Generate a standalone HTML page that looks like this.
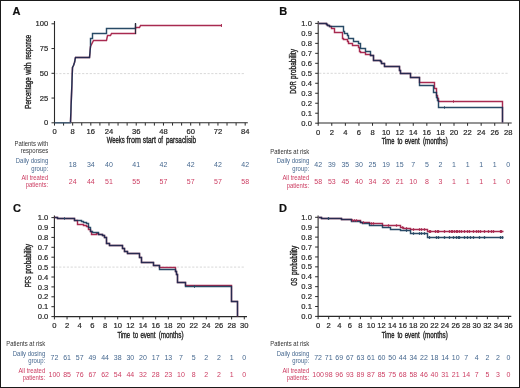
<!DOCTYPE html>
<html><head><meta charset="utf-8"><title>Figure</title>
<style>
html,body{margin:0;padding:0;background:#fff;}
body{width:520px;height:388px;overflow:hidden;}
#fig{position:absolute;left:0;top:0;width:520px;height:388px;box-sizing:border-box;border:1px solid #1a1a1a;background:#fff;}
svg{position:absolute;left:0;top:0;}
svg text{font-family:"Liberation Sans", sans-serif;stroke:currentColor;stroke-width:0.2px;}
svg text.lt{stroke-width:0px;stroke:none;}
svg text.ti{stroke-width:0.38px;}
</style></head>
<body><div id="fig"></div>
<svg width="520" height="388" viewBox="0 0 520 388">
<text x="12.40" y="14.60" font-size="11.0" font-weight="bold" fill="#111" color="#111">A</text>
<line x1="54.50" y1="21.00" x2="54.50" y2="123.30" stroke="#2a2a2a" stroke-width="1.1"/>
<line x1="51.50" y1="23.80" x2="54.50" y2="23.80" stroke="#2a2a2a" stroke-width="1.0"/>
<text x="48.30" y="26.00" font-size="8.0" text-anchor="end" fill="#262626" color="#262626" textLength="12.68" lengthAdjust="spacingAndGlyphs">100</text>
<line x1="51.50" y1="48.55" x2="54.50" y2="48.55" stroke="#2a2a2a" stroke-width="1.0"/>
<text x="48.30" y="51.00" font-size="8.0" text-anchor="end" fill="#262626" color="#262626" textLength="8.45" lengthAdjust="spacingAndGlyphs">75</text>
<line x1="51.50" y1="73.30" x2="54.50" y2="73.30" stroke="#2a2a2a" stroke-width="1.0"/>
<text x="48.30" y="76.00" font-size="8.0" text-anchor="end" fill="#262626" color="#262626" textLength="8.45" lengthAdjust="spacingAndGlyphs">50</text>
<line x1="51.50" y1="98.05" x2="54.50" y2="98.05" stroke="#2a2a2a" stroke-width="1.0"/>
<text x="48.30" y="101.00" font-size="8.0" text-anchor="end" fill="#262626" color="#262626" textLength="8.45" lengthAdjust="spacingAndGlyphs">25</text>
<line x1="51.50" y1="122.80" x2="54.50" y2="122.80" stroke="#2a2a2a" stroke-width="1.0"/>
<text x="48.30" y="125.00" font-size="8.0" text-anchor="end" fill="#262626" color="#262626" textLength="4.23" lengthAdjust="spacingAndGlyphs">0</text>
<text transform="translate(30.70,108.70) rotate(-90)" x="-0.00" y="0" font-size="8.6" fill="#262626" color="#262626" textLength="31.40" lengthAdjust="spacingAndGlyphs" class="ti">Percentage</text>
<text transform="translate(30.70,74.80) rotate(-90)" x="0.01" y="0" font-size="8.6" fill="#262626" color="#262626" textLength="12.39" lengthAdjust="spacingAndGlyphs" class="ti">with</text>
<text transform="translate(30.70,59.50) rotate(-90)" x="-0.00" y="0" font-size="8.6" fill="#262626" color="#262626" textLength="24.70" lengthAdjust="spacingAndGlyphs" class="ti">response</text>
<line x1="55.50" y1="73.60" x2="245.00" y2="73.60" stroke="#d4d4d4" stroke-width="0.9" stroke-dasharray="2.2 1.6"/>
<line x1="54.50" y1="122.80" x2="247.80" y2="122.80" stroke="#2a2a2a" stroke-width="1.1"/>
<line x1="54.50" y1="122.80" x2="54.50" y2="125.60" stroke="#2a2a2a" stroke-width="1.0"/>
<line x1="63.58" y1="122.80" x2="63.58" y2="125.60" stroke="#2a2a2a" stroke-width="1.0"/>
<line x1="72.66" y1="122.80" x2="72.66" y2="125.60" stroke="#2a2a2a" stroke-width="1.0"/>
<line x1="81.74" y1="122.80" x2="81.74" y2="125.60" stroke="#2a2a2a" stroke-width="1.0"/>
<line x1="90.82" y1="122.80" x2="90.82" y2="125.60" stroke="#2a2a2a" stroke-width="1.0"/>
<line x1="99.90" y1="122.80" x2="99.90" y2="125.60" stroke="#2a2a2a" stroke-width="1.0"/>
<line x1="108.98" y1="122.80" x2="108.98" y2="125.60" stroke="#2a2a2a" stroke-width="1.0"/>
<line x1="118.06" y1="122.80" x2="118.06" y2="125.60" stroke="#2a2a2a" stroke-width="1.0"/>
<line x1="127.14" y1="122.80" x2="127.14" y2="125.60" stroke="#2a2a2a" stroke-width="1.0"/>
<line x1="136.22" y1="122.80" x2="136.22" y2="125.60" stroke="#2a2a2a" stroke-width="1.0"/>
<line x1="145.30" y1="122.80" x2="145.30" y2="125.60" stroke="#2a2a2a" stroke-width="1.0"/>
<line x1="154.38" y1="122.80" x2="154.38" y2="125.60" stroke="#2a2a2a" stroke-width="1.0"/>
<line x1="163.46" y1="122.80" x2="163.46" y2="125.60" stroke="#2a2a2a" stroke-width="1.0"/>
<line x1="172.54" y1="122.80" x2="172.54" y2="125.60" stroke="#2a2a2a" stroke-width="1.0"/>
<line x1="181.62" y1="122.80" x2="181.62" y2="125.60" stroke="#2a2a2a" stroke-width="1.0"/>
<line x1="190.70" y1="122.80" x2="190.70" y2="125.60" stroke="#2a2a2a" stroke-width="1.0"/>
<line x1="199.78" y1="122.80" x2="199.78" y2="125.60" stroke="#2a2a2a" stroke-width="1.0"/>
<line x1="208.86" y1="122.80" x2="208.86" y2="125.60" stroke="#2a2a2a" stroke-width="1.0"/>
<line x1="217.94" y1="122.80" x2="217.94" y2="125.60" stroke="#2a2a2a" stroke-width="1.0"/>
<line x1="227.02" y1="122.80" x2="227.02" y2="125.60" stroke="#2a2a2a" stroke-width="1.0"/>
<line x1="236.10" y1="122.80" x2="236.10" y2="125.60" stroke="#2a2a2a" stroke-width="1.0"/>
<line x1="245.18" y1="122.80" x2="245.18" y2="125.60" stroke="#2a2a2a" stroke-width="1.0"/>
<text x="54.50" y="134.00" font-size="8.0" text-anchor="middle" fill="#262626" color="#262626" textLength="4.23" lengthAdjust="spacingAndGlyphs">0</text>
<text x="72.66" y="134.00" font-size="8.0" text-anchor="middle" fill="#262626" color="#262626" textLength="4.23" lengthAdjust="spacingAndGlyphs">8</text>
<text x="90.82" y="134.00" font-size="8.0" text-anchor="middle" fill="#262626" color="#262626" textLength="8.45" lengthAdjust="spacingAndGlyphs">16</text>
<text x="108.98" y="134.00" font-size="8.0" text-anchor="middle" fill="#262626" color="#262626" textLength="8.45" lengthAdjust="spacingAndGlyphs">24</text>
<text x="136.22" y="134.00" font-size="8.0" text-anchor="middle" fill="#262626" color="#262626" textLength="8.45" lengthAdjust="spacingAndGlyphs">36</text>
<text x="163.46" y="134.00" font-size="8.0" text-anchor="middle" fill="#262626" color="#262626" textLength="8.45" lengthAdjust="spacingAndGlyphs">48</text>
<text x="190.70" y="134.00" font-size="8.0" text-anchor="middle" fill="#262626" color="#262626" textLength="8.45" lengthAdjust="spacingAndGlyphs">60</text>
<text x="217.94" y="134.00" font-size="8.0" text-anchor="middle" fill="#262626" color="#262626" textLength="8.45" lengthAdjust="spacingAndGlyphs">72</text>
<text x="245.18" y="134.00" font-size="8.0" text-anchor="middle" fill="#262626" color="#262626" textLength="8.45" lengthAdjust="spacingAndGlyphs">84</text>
<text x="106.80" y="143.40" font-size="8.6" fill="#262626" color="#262626" textLength="18.00" lengthAdjust="spacingAndGlyphs" class="ti">Weeks</text>
<text x="126.60" y="143.40" font-size="8.6" fill="#262626" color="#262626" textLength="14.30" lengthAdjust="spacingAndGlyphs" class="ti">from</text>
<text x="142.80" y="143.40" font-size="8.6" fill="#262626" color="#262626" textLength="13.20" lengthAdjust="spacingAndGlyphs" class="ti">start</text>
<text x="158.00" y="143.40" font-size="8.6" fill="#262626" color="#262626" textLength="4.99" lengthAdjust="spacingAndGlyphs" class="ti">of</text>
<text x="166.00" y="143.40" font-size="8.6" fill="#262626" color="#262626" textLength="30.00" lengthAdjust="spacingAndGlyphs" class="ti">parsaclisib</text>
<polyline points="70.50,122.50 72.50,67.50 73.50,65.50 74.50,62.50 75.50,57.50 89.50,57.50 90.50,46.50 91.50,44.50 93.50,40.50 106.50,40.50 107.50,35.50 110.50,35.50 111.50,33.50 135.50,33.50 135.50,27.50 139.50,27.50 140.50,25.50 221.50,25.50" fill="none" stroke="#a82a50" stroke-width="1.45" stroke-linejoin="miter"/>
<polyline points="70.50,122.50 72.50,67.50 73.50,65.50 74.50,62.50 75.50,57.50 89.50,57.50 90.50,46.50 90.50,38.50 92.50,38.50 92.50,33.50 106.50,33.50 106.50,28.50 135.50,28.50 135.50,23.50" fill="none" stroke="#284a66" stroke-width="1.45" stroke-linejoin="miter" style="mix-blend-mode:darken"/>
<line x1="54.50" y1="122.85" x2="70.80" y2="122.85" stroke="#3d5b78" stroke-width="1.2"/>
<line x1="135.50" y1="23.00" x2="135.50" y2="34.00" stroke="#2b2b3b" stroke-width="1.1"/>
<line x1="221.50" y1="24.10" x2="221.50" y2="26.90" stroke="#a82a50" stroke-width="1.0"/>
<text x="48.20" y="145.60" font-size="6.8" text-anchor="end" fill="#333333" color="#333333" textLength="33.73" lengthAdjust="spacingAndGlyphs" class="lt">Patients with</text>
<text x="48.20" y="152.90" font-size="6.8" text-anchor="end" fill="#333333" color="#333333" textLength="27.45" lengthAdjust="spacingAndGlyphs" class="lt">responses</text>
<text x="48.20" y="162.90" font-size="6.8" text-anchor="end" fill="#46688f" color="#46688f" textLength="32.41" lengthAdjust="spacingAndGlyphs" class="lt">Daily dosing</text>
<text x="48.20" y="170.60" font-size="6.8" text-anchor="end" fill="#46688f" color="#46688f" textLength="16.87" lengthAdjust="spacingAndGlyphs" class="lt">group:</text>
<text x="48.20" y="179.80" font-size="6.8" text-anchor="end" fill="#cc3d62" color="#cc3d62" textLength="26.79" lengthAdjust="spacingAndGlyphs" class="lt">All treated</text>
<text x="48.20" y="187.40" font-size="6.8" text-anchor="end" fill="#cc3d62" color="#cc3d62" textLength="22.49" lengthAdjust="spacingAndGlyphs" class="lt">patients:</text>
<text x="72.66" y="167.10" font-size="7.0" text-anchor="middle" fill="#46688f" color="#46688f" class="lt">18</text>
<text x="90.82" y="167.10" font-size="7.0" text-anchor="middle" fill="#46688f" color="#46688f" class="lt">34</text>
<text x="108.98" y="167.10" font-size="7.0" text-anchor="middle" fill="#46688f" color="#46688f" class="lt">40</text>
<text x="136.22" y="167.10" font-size="7.0" text-anchor="middle" fill="#46688f" color="#46688f" class="lt">41</text>
<text x="163.46" y="167.10" font-size="7.0" text-anchor="middle" fill="#46688f" color="#46688f" class="lt">42</text>
<text x="190.70" y="167.10" font-size="7.0" text-anchor="middle" fill="#46688f" color="#46688f" class="lt">42</text>
<text x="217.94" y="167.10" font-size="7.0" text-anchor="middle" fill="#46688f" color="#46688f" class="lt">42</text>
<text x="245.18" y="167.10" font-size="7.0" text-anchor="middle" fill="#46688f" color="#46688f" class="lt">42</text>
<text x="72.66" y="184.00" font-size="7.0" text-anchor="middle" fill="#cc3d62" color="#cc3d62" class="lt">24</text>
<text x="90.82" y="184.00" font-size="7.0" text-anchor="middle" fill="#cc3d62" color="#cc3d62" class="lt">44</text>
<text x="108.98" y="184.00" font-size="7.0" text-anchor="middle" fill="#cc3d62" color="#cc3d62" class="lt">51</text>
<text x="136.22" y="184.00" font-size="7.0" text-anchor="middle" fill="#cc3d62" color="#cc3d62" class="lt">55</text>
<text x="163.46" y="184.00" font-size="7.0" text-anchor="middle" fill="#cc3d62" color="#cc3d62" class="lt">57</text>
<text x="190.70" y="184.00" font-size="7.0" text-anchor="middle" fill="#cc3d62" color="#cc3d62" class="lt">57</text>
<text x="217.94" y="184.00" font-size="7.0" text-anchor="middle" fill="#cc3d62" color="#cc3d62" class="lt">57</text>
<text x="245.18" y="184.00" font-size="7.0" text-anchor="middle" fill="#cc3d62" color="#cc3d62" class="lt">58</text>
<text x="279.30" y="14.60" font-size="11.0" font-weight="bold" fill="#111" color="#111">B</text>
<line x1="318.20" y1="21.00" x2="318.20" y2="123.50" stroke="#2a2a2a" stroke-width="1.1"/>
<line x1="315.20" y1="23.40" x2="318.20" y2="23.40" stroke="#2a2a2a" stroke-width="1.0"/>
<text x="311.90" y="26.00" font-size="8.0" text-anchor="end" fill="#262626" color="#262626" textLength="10.57" lengthAdjust="spacingAndGlyphs">1.0</text>
<line x1="315.20" y1="33.38" x2="318.20" y2="33.38" stroke="#2a2a2a" stroke-width="1.0"/>
<text x="311.90" y="36.00" font-size="8.0" text-anchor="end" fill="#262626" color="#262626" textLength="10.57" lengthAdjust="spacingAndGlyphs">0.9</text>
<line x1="315.20" y1="43.36" x2="318.20" y2="43.36" stroke="#2a2a2a" stroke-width="1.0"/>
<text x="311.90" y="46.00" font-size="8.0" text-anchor="end" fill="#262626" color="#262626" textLength="10.57" lengthAdjust="spacingAndGlyphs">0.8</text>
<line x1="315.20" y1="53.34" x2="318.20" y2="53.34" stroke="#2a2a2a" stroke-width="1.0"/>
<text x="311.90" y="56.00" font-size="8.0" text-anchor="end" fill="#262626" color="#262626" textLength="10.57" lengthAdjust="spacingAndGlyphs">0.7</text>
<line x1="315.20" y1="63.32" x2="318.20" y2="63.32" stroke="#2a2a2a" stroke-width="1.0"/>
<text x="311.90" y="66.00" font-size="8.0" text-anchor="end" fill="#262626" color="#262626" textLength="10.57" lengthAdjust="spacingAndGlyphs">0.6</text>
<line x1="315.20" y1="73.30" x2="318.20" y2="73.30" stroke="#2a2a2a" stroke-width="1.0"/>
<text x="311.90" y="76.00" font-size="8.0" text-anchor="end" fill="#262626" color="#262626" textLength="10.57" lengthAdjust="spacingAndGlyphs">0.5</text>
<line x1="315.20" y1="83.28" x2="318.20" y2="83.28" stroke="#2a2a2a" stroke-width="1.0"/>
<text x="311.90" y="86.00" font-size="8.0" text-anchor="end" fill="#262626" color="#262626" textLength="10.57" lengthAdjust="spacingAndGlyphs">0.4</text>
<line x1="315.20" y1="93.26" x2="318.20" y2="93.26" stroke="#2a2a2a" stroke-width="1.0"/>
<text x="311.90" y="96.00" font-size="8.0" text-anchor="end" fill="#262626" color="#262626" textLength="10.57" lengthAdjust="spacingAndGlyphs">0.3</text>
<line x1="315.20" y1="103.24" x2="318.20" y2="103.24" stroke="#2a2a2a" stroke-width="1.0"/>
<text x="311.90" y="106.00" font-size="8.0" text-anchor="end" fill="#262626" color="#262626" textLength="10.57" lengthAdjust="spacingAndGlyphs">0.2</text>
<line x1="315.20" y1="113.22" x2="318.20" y2="113.22" stroke="#2a2a2a" stroke-width="1.0"/>
<text x="311.90" y="116.00" font-size="8.0" text-anchor="end" fill="#262626" color="#262626" textLength="10.57" lengthAdjust="spacingAndGlyphs">0.1</text>
<line x1="315.20" y1="123.20" x2="318.20" y2="123.20" stroke="#2a2a2a" stroke-width="1.0"/>
<text x="311.90" y="126.00" font-size="8.0" text-anchor="end" fill="#262626" color="#262626" textLength="10.57" lengthAdjust="spacingAndGlyphs">0.0</text>
<text transform="translate(296.40,93.70) rotate(-90)" x="-0.00" y="0" font-size="8.6" fill="#262626" color="#262626" textLength="12.40" lengthAdjust="spacingAndGlyphs" class="ti">DOR</text>
<text transform="translate(296.40,78.90) rotate(-90)" x="-0.00" y="0" font-size="8.6" fill="#262626" color="#262626" textLength="29.80" lengthAdjust="spacingAndGlyphs" class="ti">probability</text>
<line x1="319.20" y1="73.30" x2="509.00" y2="73.30" stroke="#d4d4d4" stroke-width="0.9" stroke-dasharray="2.2 1.6"/>
<line x1="318.20" y1="123.00" x2="511.70" y2="123.00" stroke="#2a2a2a" stroke-width="1.1"/>
<line x1="318.20" y1="123.00" x2="318.20" y2="125.80" stroke="#2a2a2a" stroke-width="1.0"/>
<line x1="331.78" y1="123.00" x2="331.78" y2="125.80" stroke="#2a2a2a" stroke-width="1.0"/>
<line x1="345.36" y1="123.00" x2="345.36" y2="125.80" stroke="#2a2a2a" stroke-width="1.0"/>
<line x1="358.94" y1="123.00" x2="358.94" y2="125.80" stroke="#2a2a2a" stroke-width="1.0"/>
<line x1="372.52" y1="123.00" x2="372.52" y2="125.80" stroke="#2a2a2a" stroke-width="1.0"/>
<line x1="386.10" y1="123.00" x2="386.10" y2="125.80" stroke="#2a2a2a" stroke-width="1.0"/>
<line x1="399.68" y1="123.00" x2="399.68" y2="125.80" stroke="#2a2a2a" stroke-width="1.0"/>
<line x1="413.26" y1="123.00" x2="413.26" y2="125.80" stroke="#2a2a2a" stroke-width="1.0"/>
<line x1="426.84" y1="123.00" x2="426.84" y2="125.80" stroke="#2a2a2a" stroke-width="1.0"/>
<line x1="440.42" y1="123.00" x2="440.42" y2="125.80" stroke="#2a2a2a" stroke-width="1.0"/>
<line x1="454.00" y1="123.00" x2="454.00" y2="125.80" stroke="#2a2a2a" stroke-width="1.0"/>
<line x1="467.58" y1="123.00" x2="467.58" y2="125.80" stroke="#2a2a2a" stroke-width="1.0"/>
<line x1="481.16" y1="123.00" x2="481.16" y2="125.80" stroke="#2a2a2a" stroke-width="1.0"/>
<line x1="494.74" y1="123.00" x2="494.74" y2="125.80" stroke="#2a2a2a" stroke-width="1.0"/>
<line x1="508.32" y1="123.00" x2="508.32" y2="125.80" stroke="#2a2a2a" stroke-width="1.0"/>
<text x="318.20" y="135.00" font-size="8.0" text-anchor="middle" fill="#262626" color="#262626" textLength="4.23" lengthAdjust="spacingAndGlyphs">0</text>
<text x="331.78" y="135.00" font-size="8.0" text-anchor="middle" fill="#262626" color="#262626" textLength="4.23" lengthAdjust="spacingAndGlyphs">2</text>
<text x="345.36" y="135.00" font-size="8.0" text-anchor="middle" fill="#262626" color="#262626" textLength="4.23" lengthAdjust="spacingAndGlyphs">4</text>
<text x="358.94" y="135.00" font-size="8.0" text-anchor="middle" fill="#262626" color="#262626" textLength="4.23" lengthAdjust="spacingAndGlyphs">6</text>
<text x="372.52" y="135.00" font-size="8.0" text-anchor="middle" fill="#262626" color="#262626" textLength="4.23" lengthAdjust="spacingAndGlyphs">8</text>
<text x="386.10" y="135.00" font-size="8.0" text-anchor="middle" fill="#262626" color="#262626" textLength="8.45" lengthAdjust="spacingAndGlyphs">10</text>
<text x="399.68" y="135.00" font-size="8.0" text-anchor="middle" fill="#262626" color="#262626" textLength="8.45" lengthAdjust="spacingAndGlyphs">12</text>
<text x="413.26" y="135.00" font-size="8.0" text-anchor="middle" fill="#262626" color="#262626" textLength="8.45" lengthAdjust="spacingAndGlyphs">14</text>
<text x="426.84" y="135.00" font-size="8.0" text-anchor="middle" fill="#262626" color="#262626" textLength="8.45" lengthAdjust="spacingAndGlyphs">16</text>
<text x="440.42" y="135.00" font-size="8.0" text-anchor="middle" fill="#262626" color="#262626" textLength="8.45" lengthAdjust="spacingAndGlyphs">18</text>
<text x="454.00" y="135.00" font-size="8.0" text-anchor="middle" fill="#262626" color="#262626" textLength="8.45" lengthAdjust="spacingAndGlyphs">20</text>
<text x="467.58" y="135.00" font-size="8.0" text-anchor="middle" fill="#262626" color="#262626" textLength="8.45" lengthAdjust="spacingAndGlyphs">22</text>
<text x="481.16" y="135.00" font-size="8.0" text-anchor="middle" fill="#262626" color="#262626" textLength="8.45" lengthAdjust="spacingAndGlyphs">24</text>
<text x="494.74" y="135.00" font-size="8.0" text-anchor="middle" fill="#262626" color="#262626" textLength="8.45" lengthAdjust="spacingAndGlyphs">26</text>
<text x="508.32" y="135.00" font-size="8.0" text-anchor="middle" fill="#262626" color="#262626" textLength="8.45" lengthAdjust="spacingAndGlyphs">28</text>
<text x="381.70" y="143.60" font-size="8.6" fill="#262626" color="#262626" textLength="12.70" lengthAdjust="spacingAndGlyphs" class="ti">Time</text>
<text x="397.40" y="143.60" font-size="8.6" fill="#262626" color="#262626" textLength="5.10" lengthAdjust="spacingAndGlyphs" class="ti">to</text>
<text x="404.70" y="143.60" font-size="8.6" fill="#262626" color="#262626" textLength="15.00" lengthAdjust="spacingAndGlyphs" class="ti">event</text>
<text x="423.00" y="143.60" font-size="8.6" fill="#262626" color="#262626" textLength="24.80" lengthAdjust="spacingAndGlyphs" class="ti">(months)</text>
<polyline points="318.50,23.50 326.50,23.50 326.50,24.50 327.50,24.50 327.50,25.50 329.50,25.50 329.50,26.50 331.50,26.50 331.50,28.50 334.50,28.50 334.50,32.50 342.50,32.50 342.50,38.50 343.50,38.50 343.50,39.50 347.50,39.50 347.50,41.50 348.50,41.50 348.50,43.50 352.50,43.50 352.50,45.50 358.50,45.50 358.50,47.50 359.50,47.50 359.50,51.50 360.50,51.50 360.50,52.50 365.50,52.50 365.50,54.50 370.50,54.50 370.50,55.50 373.50,55.50 373.50,60.50 380.50,60.50 380.50,61.50 381.50,61.50 381.50,63.50 384.50,63.50 384.50,66.50 399.50,66.50 399.50,70.50 400.50,70.50 400.50,73.50 410.50,73.50 410.50,77.50 419.50,77.50 419.50,82.50 434.50,82.50 434.50,88.50 436.50,88.50 436.50,95.50 437.50,95.50 437.50,98.50 438.50,98.50 438.50,101.50 502.50,101.50 502.50,122.50" fill="none" stroke="#a82a50" stroke-width="1.45" stroke-linejoin="miter"/>
<polyline points="318.50,23.50 326.50,23.50 326.50,24.50 327.50,24.50 327.50,25.50 329.50,25.50 329.50,26.50 343.50,26.50 343.50,31.50 344.50,31.50 344.50,33.50 347.50,33.50 347.50,35.50 348.50,35.50 348.50,38.50 353.50,38.50 353.50,41.50 358.50,41.50 358.50,43.50 360.50,43.50 360.50,48.50 365.50,48.50 365.50,51.50 370.50,51.50 370.50,55.50 373.50,55.50 373.50,60.50 380.50,60.50 380.50,61.50 381.50,61.50 381.50,63.50 384.50,63.50 384.50,66.50 399.50,66.50 399.50,70.50 400.50,70.50 400.50,73.50 410.50,73.50 410.50,77.50 419.50,77.50 419.50,85.50 433.50,85.50 433.50,92.50 436.50,92.50 436.50,97.50 437.50,97.50 437.50,100.50 438.50,100.50 438.50,107.50 502.50,107.50 502.50,122.50" fill="none" stroke="#284a66" stroke-width="1.45" stroke-linejoin="miter" style="mix-blend-mode:darken"/>
<line x1="444.50" y1="106.30" x2="444.50" y2="108.70" stroke="#284a66" stroke-width="1.0"/>
<line x1="453.50" y1="100.30" x2="453.50" y2="102.70" stroke="#a82a50" stroke-width="1.0"/>
<text x="309.20" y="153.60" font-size="6.8" text-anchor="end" fill="#333333" color="#333333" textLength="39.02" lengthAdjust="spacingAndGlyphs" class="lt">Patients at risk</text>
<text x="309.20" y="162.90" font-size="6.8" text-anchor="end" fill="#46688f" color="#46688f" textLength="32.41" lengthAdjust="spacingAndGlyphs" class="lt">Daily dosing</text>
<text x="309.20" y="170.80" font-size="6.8" text-anchor="end" fill="#46688f" color="#46688f" textLength="16.87" lengthAdjust="spacingAndGlyphs" class="lt">group:</text>
<text x="309.20" y="179.60" font-size="6.8" text-anchor="end" fill="#cc3d62" color="#cc3d62" textLength="26.79" lengthAdjust="spacingAndGlyphs" class="lt">All treated</text>
<text x="309.20" y="187.80" font-size="6.8" text-anchor="end" fill="#cc3d62" color="#cc3d62" textLength="22.49" lengthAdjust="spacingAndGlyphs" class="lt">patients:</text>
<text x="318.20" y="167.10" font-size="7.0" text-anchor="middle" fill="#46688f" color="#46688f" class="lt">42</text>
<text x="331.78" y="167.10" font-size="7.0" text-anchor="middle" fill="#46688f" color="#46688f" class="lt">39</text>
<text x="345.36" y="167.10" font-size="7.0" text-anchor="middle" fill="#46688f" color="#46688f" class="lt">35</text>
<text x="358.94" y="167.10" font-size="7.0" text-anchor="middle" fill="#46688f" color="#46688f" class="lt">30</text>
<text x="372.52" y="167.10" font-size="7.0" text-anchor="middle" fill="#46688f" color="#46688f" class="lt">25</text>
<text x="386.10" y="167.10" font-size="7.0" text-anchor="middle" fill="#46688f" color="#46688f" class="lt">19</text>
<text x="399.68" y="167.10" font-size="7.0" text-anchor="middle" fill="#46688f" color="#46688f" class="lt">15</text>
<text x="413.26" y="167.10" font-size="7.0" text-anchor="middle" fill="#46688f" color="#46688f" class="lt">7</text>
<text x="426.84" y="167.10" font-size="7.0" text-anchor="middle" fill="#46688f" color="#46688f" class="lt">5</text>
<text x="440.42" y="167.10" font-size="7.0" text-anchor="middle" fill="#46688f" color="#46688f" class="lt">2</text>
<text x="454.00" y="167.10" font-size="7.0" text-anchor="middle" fill="#46688f" color="#46688f" class="lt">1</text>
<text x="467.58" y="167.10" font-size="7.0" text-anchor="middle" fill="#46688f" color="#46688f" class="lt">1</text>
<text x="481.16" y="167.10" font-size="7.0" text-anchor="middle" fill="#46688f" color="#46688f" class="lt">1</text>
<text x="494.74" y="167.10" font-size="7.0" text-anchor="middle" fill="#46688f" color="#46688f" class="lt">1</text>
<text x="508.32" y="167.10" font-size="7.0" text-anchor="middle" fill="#46688f" color="#46688f" class="lt">0</text>
<text x="318.20" y="184.10" font-size="7.0" text-anchor="middle" fill="#cc3d62" color="#cc3d62" class="lt">58</text>
<text x="331.78" y="184.10" font-size="7.0" text-anchor="middle" fill="#cc3d62" color="#cc3d62" class="lt">53</text>
<text x="345.36" y="184.10" font-size="7.0" text-anchor="middle" fill="#cc3d62" color="#cc3d62" class="lt">45</text>
<text x="358.94" y="184.10" font-size="7.0" text-anchor="middle" fill="#cc3d62" color="#cc3d62" class="lt">40</text>
<text x="372.52" y="184.10" font-size="7.0" text-anchor="middle" fill="#cc3d62" color="#cc3d62" class="lt">34</text>
<text x="386.10" y="184.10" font-size="7.0" text-anchor="middle" fill="#cc3d62" color="#cc3d62" class="lt">26</text>
<text x="399.68" y="184.10" font-size="7.0" text-anchor="middle" fill="#cc3d62" color="#cc3d62" class="lt">21</text>
<text x="413.26" y="184.10" font-size="7.0" text-anchor="middle" fill="#cc3d62" color="#cc3d62" class="lt">10</text>
<text x="426.84" y="184.10" font-size="7.0" text-anchor="middle" fill="#cc3d62" color="#cc3d62" class="lt">8</text>
<text x="440.42" y="184.10" font-size="7.0" text-anchor="middle" fill="#cc3d62" color="#cc3d62" class="lt">3</text>
<text x="454.00" y="184.10" font-size="7.0" text-anchor="middle" fill="#cc3d62" color="#cc3d62" class="lt">1</text>
<text x="467.58" y="184.10" font-size="7.0" text-anchor="middle" fill="#cc3d62" color="#cc3d62" class="lt">1</text>
<text x="481.16" y="184.10" font-size="7.0" text-anchor="middle" fill="#cc3d62" color="#cc3d62" class="lt">1</text>
<text x="494.74" y="184.10" font-size="7.0" text-anchor="middle" fill="#cc3d62" color="#cc3d62" class="lt">1</text>
<text x="508.32" y="184.10" font-size="7.0" text-anchor="middle" fill="#cc3d62" color="#cc3d62" class="lt">0</text>
<text x="12.90" y="211.90" font-size="11.0" font-weight="bold" fill="#111" color="#111">C</text>
<line x1="54.40" y1="215.50" x2="54.40" y2="317.10" stroke="#2a2a2a" stroke-width="1.1"/>
<line x1="51.40" y1="217.60" x2="54.40" y2="217.60" stroke="#2a2a2a" stroke-width="1.0"/>
<text x="48.30" y="220.00" font-size="8.0" text-anchor="end" fill="#262626" color="#262626" textLength="10.57" lengthAdjust="spacingAndGlyphs">1.0</text>
<line x1="51.40" y1="227.50" x2="54.40" y2="227.50" stroke="#2a2a2a" stroke-width="1.0"/>
<text x="48.30" y="230.00" font-size="8.0" text-anchor="end" fill="#262626" color="#262626" textLength="10.57" lengthAdjust="spacingAndGlyphs">0.9</text>
<line x1="51.40" y1="237.40" x2="54.40" y2="237.40" stroke="#2a2a2a" stroke-width="1.0"/>
<text x="48.30" y="240.00" font-size="8.0" text-anchor="end" fill="#262626" color="#262626" textLength="10.57" lengthAdjust="spacingAndGlyphs">0.8</text>
<line x1="51.40" y1="247.30" x2="54.40" y2="247.30" stroke="#2a2a2a" stroke-width="1.0"/>
<text x="48.30" y="250.00" font-size="8.0" text-anchor="end" fill="#262626" color="#262626" textLength="10.57" lengthAdjust="spacingAndGlyphs">0.7</text>
<line x1="51.40" y1="257.20" x2="54.40" y2="257.20" stroke="#2a2a2a" stroke-width="1.0"/>
<text x="48.30" y="260.00" font-size="8.0" text-anchor="end" fill="#262626" color="#262626" textLength="10.57" lengthAdjust="spacingAndGlyphs">0.6</text>
<line x1="51.40" y1="267.10" x2="54.40" y2="267.10" stroke="#2a2a2a" stroke-width="1.0"/>
<text x="48.30" y="270.00" font-size="8.0" text-anchor="end" fill="#262626" color="#262626" textLength="10.57" lengthAdjust="spacingAndGlyphs">0.5</text>
<line x1="51.40" y1="277.00" x2="54.40" y2="277.00" stroke="#2a2a2a" stroke-width="1.0"/>
<text x="48.30" y="280.00" font-size="8.0" text-anchor="end" fill="#262626" color="#262626" textLength="10.57" lengthAdjust="spacingAndGlyphs">0.4</text>
<line x1="51.40" y1="286.90" x2="54.40" y2="286.90" stroke="#2a2a2a" stroke-width="1.0"/>
<text x="48.30" y="290.00" font-size="8.0" text-anchor="end" fill="#262626" color="#262626" textLength="10.57" lengthAdjust="spacingAndGlyphs">0.3</text>
<line x1="51.40" y1="296.80" x2="54.40" y2="296.80" stroke="#2a2a2a" stroke-width="1.0"/>
<text x="48.30" y="299.00" font-size="8.0" text-anchor="end" fill="#262626" color="#262626" textLength="10.57" lengthAdjust="spacingAndGlyphs">0.2</text>
<line x1="51.40" y1="306.70" x2="54.40" y2="306.70" stroke="#2a2a2a" stroke-width="1.0"/>
<text x="48.30" y="309.00" font-size="8.0" text-anchor="end" fill="#262626" color="#262626" textLength="10.57" lengthAdjust="spacingAndGlyphs">0.1</text>
<line x1="51.40" y1="316.60" x2="54.40" y2="316.60" stroke="#2a2a2a" stroke-width="1.0"/>
<text x="48.30" y="319.00" font-size="8.0" text-anchor="end" fill="#262626" color="#262626" textLength="10.57" lengthAdjust="spacingAndGlyphs">0.0</text>
<text transform="translate(30.80,287.30) rotate(-90)" x="-0.00" y="0" font-size="8.6" fill="#262626" color="#262626" textLength="11.10" lengthAdjust="spacingAndGlyphs" class="ti">PFS</text>
<text transform="translate(30.80,273.80) rotate(-90)" x="-0.00" y="0" font-size="8.6" fill="#262626" color="#262626" textLength="29.80" lengthAdjust="spacingAndGlyphs" class="ti">probability</text>
<line x1="55.40" y1="267.10" x2="245.00" y2="267.10" stroke="#d4d4d4" stroke-width="0.9" stroke-dasharray="2.2 1.6"/>
<line x1="54.40" y1="316.60" x2="247.00" y2="316.60" stroke="#2a2a2a" stroke-width="1.1"/>
<line x1="54.40" y1="316.60" x2="54.40" y2="319.40" stroke="#2a2a2a" stroke-width="1.0"/>
<line x1="67.06" y1="316.60" x2="67.06" y2="319.40" stroke="#2a2a2a" stroke-width="1.0"/>
<line x1="79.72" y1="316.60" x2="79.72" y2="319.40" stroke="#2a2a2a" stroke-width="1.0"/>
<line x1="92.38" y1="316.60" x2="92.38" y2="319.40" stroke="#2a2a2a" stroke-width="1.0"/>
<line x1="105.04" y1="316.60" x2="105.04" y2="319.40" stroke="#2a2a2a" stroke-width="1.0"/>
<line x1="117.70" y1="316.60" x2="117.70" y2="319.40" stroke="#2a2a2a" stroke-width="1.0"/>
<line x1="130.36" y1="316.60" x2="130.36" y2="319.40" stroke="#2a2a2a" stroke-width="1.0"/>
<line x1="143.02" y1="316.60" x2="143.02" y2="319.40" stroke="#2a2a2a" stroke-width="1.0"/>
<line x1="155.68" y1="316.60" x2="155.68" y2="319.40" stroke="#2a2a2a" stroke-width="1.0"/>
<line x1="168.34" y1="316.60" x2="168.34" y2="319.40" stroke="#2a2a2a" stroke-width="1.0"/>
<line x1="181.00" y1="316.60" x2="181.00" y2="319.40" stroke="#2a2a2a" stroke-width="1.0"/>
<line x1="193.66" y1="316.60" x2="193.66" y2="319.40" stroke="#2a2a2a" stroke-width="1.0"/>
<line x1="206.32" y1="316.60" x2="206.32" y2="319.40" stroke="#2a2a2a" stroke-width="1.0"/>
<line x1="218.98" y1="316.60" x2="218.98" y2="319.40" stroke="#2a2a2a" stroke-width="1.0"/>
<line x1="231.64" y1="316.60" x2="231.64" y2="319.40" stroke="#2a2a2a" stroke-width="1.0"/>
<line x1="244.30" y1="316.60" x2="244.30" y2="319.40" stroke="#2a2a2a" stroke-width="1.0"/>
<text x="54.40" y="328.00" font-size="8.0" text-anchor="middle" fill="#262626" color="#262626" textLength="4.23" lengthAdjust="spacingAndGlyphs">0</text>
<text x="67.06" y="328.00" font-size="8.0" text-anchor="middle" fill="#262626" color="#262626" textLength="4.23" lengthAdjust="spacingAndGlyphs">2</text>
<text x="79.72" y="328.00" font-size="8.0" text-anchor="middle" fill="#262626" color="#262626" textLength="4.23" lengthAdjust="spacingAndGlyphs">4</text>
<text x="92.38" y="328.00" font-size="8.0" text-anchor="middle" fill="#262626" color="#262626" textLength="4.23" lengthAdjust="spacingAndGlyphs">6</text>
<text x="105.04" y="328.00" font-size="8.0" text-anchor="middle" fill="#262626" color="#262626" textLength="4.23" lengthAdjust="spacingAndGlyphs">8</text>
<text x="117.70" y="328.00" font-size="8.0" text-anchor="middle" fill="#262626" color="#262626" textLength="8.45" lengthAdjust="spacingAndGlyphs">10</text>
<text x="130.36" y="328.00" font-size="8.0" text-anchor="middle" fill="#262626" color="#262626" textLength="8.45" lengthAdjust="spacingAndGlyphs">12</text>
<text x="143.02" y="328.00" font-size="8.0" text-anchor="middle" fill="#262626" color="#262626" textLength="8.45" lengthAdjust="spacingAndGlyphs">14</text>
<text x="155.68" y="328.00" font-size="8.0" text-anchor="middle" fill="#262626" color="#262626" textLength="8.45" lengthAdjust="spacingAndGlyphs">16</text>
<text x="168.34" y="328.00" font-size="8.0" text-anchor="middle" fill="#262626" color="#262626" textLength="8.45" lengthAdjust="spacingAndGlyphs">18</text>
<text x="181.00" y="328.00" font-size="8.0" text-anchor="middle" fill="#262626" color="#262626" textLength="8.45" lengthAdjust="spacingAndGlyphs">20</text>
<text x="193.66" y="328.00" font-size="8.0" text-anchor="middle" fill="#262626" color="#262626" textLength="8.45" lengthAdjust="spacingAndGlyphs">22</text>
<text x="206.32" y="328.00" font-size="8.0" text-anchor="middle" fill="#262626" color="#262626" textLength="8.45" lengthAdjust="spacingAndGlyphs">24</text>
<text x="218.98" y="328.00" font-size="8.0" text-anchor="middle" fill="#262626" color="#262626" textLength="8.45" lengthAdjust="spacingAndGlyphs">26</text>
<text x="231.64" y="328.00" font-size="8.0" text-anchor="middle" fill="#262626" color="#262626" textLength="8.45" lengthAdjust="spacingAndGlyphs">28</text>
<text x="244.30" y="328.00" font-size="8.0" text-anchor="middle" fill="#262626" color="#262626" textLength="8.45" lengthAdjust="spacingAndGlyphs">30</text>
<text x="117.40" y="338.10" font-size="8.6" fill="#262626" color="#262626" textLength="12.70" lengthAdjust="spacingAndGlyphs" class="ti">Time</text>
<text x="133.10" y="338.10" font-size="8.6" fill="#262626" color="#262626" textLength="5.10" lengthAdjust="spacingAndGlyphs" class="ti">to</text>
<text x="140.40" y="338.10" font-size="8.6" fill="#262626" color="#262626" textLength="15.00" lengthAdjust="spacingAndGlyphs" class="ti">event</text>
<text x="158.70" y="338.10" font-size="8.6" fill="#262626" color="#262626" textLength="24.80" lengthAdjust="spacingAndGlyphs" class="ti">(months)</text>
<polyline points="54.50,217.50 57.50,217.50 57.50,218.50 74.50,218.50 74.50,220.50 77.50,220.50 77.50,224.50 78.50,224.50 78.50,224.50 83.50,224.50 83.50,225.50 86.50,225.50 86.50,226.50 88.50,226.50 88.50,229.50 90.50,229.50 90.50,231.50 91.50,231.50 91.50,234.50 96.50,234.50 96.50,233.50 98.50,233.50 98.50,234.50 102.50,234.50 102.50,235.50 104.50,235.50 104.50,237.50 106.50,237.50 106.50,243.50 109.50,243.50 109.50,245.50 122.50,245.50 122.50,248.50 124.50,248.50 124.50,251.50 127.50,251.50 127.50,253.50 139.50,253.50 139.50,257.50 141.50,257.50 141.50,262.50 153.50,262.50 153.50,265.50 159.50,265.50 159.50,267.50 175.50,267.50 175.50,271.50 176.50,271.50 176.50,274.50 177.50,274.50 177.50,282.50 185.50,282.50 185.50,285.50 231.50,285.50 231.50,301.50 237.50,301.50 237.50,316.50" fill="none" stroke="#a82a50" stroke-width="1.45" stroke-linejoin="miter"/>
<polyline points="54.50,217.50 57.50,217.50 57.50,218.50 74.50,218.50 74.50,220.50 77.50,220.50 77.50,220.50 81.50,220.50 81.50,221.50 83.50,221.50 83.50,222.50 86.50,222.50 86.50,223.50 88.50,223.50 88.50,227.50 90.50,227.50 90.50,231.50 92.50,231.50 92.50,232.50 98.50,232.50 98.50,234.50 102.50,234.50 102.50,235.50 104.50,235.50 104.50,237.50 106.50,237.50 106.50,243.50 109.50,243.50 109.50,245.50 122.50,245.50 122.50,248.50 124.50,248.50 124.50,251.50 127.50,251.50 127.50,253.50 139.50,253.50 139.50,257.50 141.50,257.50 141.50,262.50 153.50,262.50 153.50,265.50 159.50,265.50 159.50,269.50 175.50,269.50 175.50,271.50 176.50,271.50 176.50,274.50 177.50,274.50 177.50,282.50 185.50,282.50 185.50,286.50 231.50,286.50 231.50,301.50 237.50,301.50 237.50,316.50" fill="none" stroke="#284a66" stroke-width="1.45" stroke-linejoin="miter" style="mix-blend-mode:darken"/>
<line x1="64.50" y1="217.30" x2="64.50" y2="219.70" stroke="#284a66" stroke-width="1.0"/>
<line x1="194.50" y1="285.20" x2="194.50" y2="287.80" stroke="#284a66" stroke-width="1.0"/>
<text x="45.20" y="346.20" font-size="6.8" text-anchor="end" fill="#333333" color="#333333" textLength="39.02" lengthAdjust="spacingAndGlyphs" class="lt">Patients at risk</text>
<text x="45.20" y="356.00" font-size="6.8" text-anchor="end" fill="#46688f" color="#46688f" textLength="32.41" lengthAdjust="spacingAndGlyphs" class="lt">Daily dosing</text>
<text x="45.20" y="363.40" font-size="6.8" text-anchor="end" fill="#46688f" color="#46688f" textLength="16.87" lengthAdjust="spacingAndGlyphs" class="lt">group:</text>
<text x="45.20" y="372.60" font-size="6.8" text-anchor="end" fill="#cc3d62" color="#cc3d62" textLength="26.79" lengthAdjust="spacingAndGlyphs" class="lt">All treated</text>
<text x="45.20" y="380.40" font-size="6.8" text-anchor="end" fill="#cc3d62" color="#cc3d62" textLength="22.49" lengthAdjust="spacingAndGlyphs" class="lt">patients:</text>
<text x="54.40" y="359.90" font-size="7.0" text-anchor="middle" fill="#46688f" color="#46688f" class="lt">72</text>
<text x="67.06" y="359.90" font-size="7.0" text-anchor="middle" fill="#46688f" color="#46688f" class="lt">61</text>
<text x="79.72" y="359.90" font-size="7.0" text-anchor="middle" fill="#46688f" color="#46688f" class="lt">57</text>
<text x="92.38" y="359.90" font-size="7.0" text-anchor="middle" fill="#46688f" color="#46688f" class="lt">49</text>
<text x="105.04" y="359.90" font-size="7.0" text-anchor="middle" fill="#46688f" color="#46688f" class="lt">44</text>
<text x="117.70" y="359.90" font-size="7.0" text-anchor="middle" fill="#46688f" color="#46688f" class="lt">38</text>
<text x="130.36" y="359.90" font-size="7.0" text-anchor="middle" fill="#46688f" color="#46688f" class="lt">30</text>
<text x="143.02" y="359.90" font-size="7.0" text-anchor="middle" fill="#46688f" color="#46688f" class="lt">20</text>
<text x="155.68" y="359.90" font-size="7.0" text-anchor="middle" fill="#46688f" color="#46688f" class="lt">17</text>
<text x="168.34" y="359.90" font-size="7.0" text-anchor="middle" fill="#46688f" color="#46688f" class="lt">13</text>
<text x="181.00" y="359.90" font-size="7.0" text-anchor="middle" fill="#46688f" color="#46688f" class="lt">7</text>
<text x="193.66" y="359.90" font-size="7.0" text-anchor="middle" fill="#46688f" color="#46688f" class="lt">5</text>
<text x="206.32" y="359.90" font-size="7.0" text-anchor="middle" fill="#46688f" color="#46688f" class="lt">2</text>
<text x="218.98" y="359.90" font-size="7.0" text-anchor="middle" fill="#46688f" color="#46688f" class="lt">2</text>
<text x="231.64" y="359.90" font-size="7.0" text-anchor="middle" fill="#46688f" color="#46688f" class="lt">1</text>
<text x="244.30" y="359.90" font-size="7.0" text-anchor="middle" fill="#46688f" color="#46688f" class="lt">0</text>
<text x="54.40" y="376.90" font-size="7.0" text-anchor="middle" fill="#cc3d62" color="#cc3d62" class="lt">100</text>
<text x="67.06" y="376.90" font-size="7.0" text-anchor="middle" fill="#cc3d62" color="#cc3d62" class="lt">85</text>
<text x="79.72" y="376.90" font-size="7.0" text-anchor="middle" fill="#cc3d62" color="#cc3d62" class="lt">76</text>
<text x="92.38" y="376.90" font-size="7.0" text-anchor="middle" fill="#cc3d62" color="#cc3d62" class="lt">67</text>
<text x="105.04" y="376.90" font-size="7.0" text-anchor="middle" fill="#cc3d62" color="#cc3d62" class="lt">62</text>
<text x="117.70" y="376.90" font-size="7.0" text-anchor="middle" fill="#cc3d62" color="#cc3d62" class="lt">54</text>
<text x="130.36" y="376.90" font-size="7.0" text-anchor="middle" fill="#cc3d62" color="#cc3d62" class="lt">44</text>
<text x="143.02" y="376.90" font-size="7.0" text-anchor="middle" fill="#cc3d62" color="#cc3d62" class="lt">32</text>
<text x="155.68" y="376.90" font-size="7.0" text-anchor="middle" fill="#cc3d62" color="#cc3d62" class="lt">28</text>
<text x="168.34" y="376.90" font-size="7.0" text-anchor="middle" fill="#cc3d62" color="#cc3d62" class="lt">23</text>
<text x="181.00" y="376.90" font-size="7.0" text-anchor="middle" fill="#cc3d62" color="#cc3d62" class="lt">10</text>
<text x="193.66" y="376.90" font-size="7.0" text-anchor="middle" fill="#cc3d62" color="#cc3d62" class="lt">8</text>
<text x="206.32" y="376.90" font-size="7.0" text-anchor="middle" fill="#cc3d62" color="#cc3d62" class="lt">2</text>
<text x="218.98" y="376.90" font-size="7.0" text-anchor="middle" fill="#cc3d62" color="#cc3d62" class="lt">2</text>
<text x="231.64" y="376.90" font-size="7.0" text-anchor="middle" fill="#cc3d62" color="#cc3d62" class="lt">1</text>
<text x="244.30" y="376.90" font-size="7.0" text-anchor="middle" fill="#cc3d62" color="#cc3d62" class="lt">0</text>
<text x="279.10" y="211.90" font-size="11.0" font-weight="bold" fill="#111" color="#111">D</text>
<line x1="318.10" y1="215.50" x2="318.10" y2="316.90" stroke="#2a2a2a" stroke-width="1.1"/>
<line x1="315.10" y1="217.30" x2="318.10" y2="217.30" stroke="#2a2a2a" stroke-width="1.0"/>
<text x="311.90" y="220.00" font-size="8.0" text-anchor="end" fill="#262626" color="#262626" textLength="10.57" lengthAdjust="spacingAndGlyphs">1.0</text>
<line x1="315.10" y1="227.21" x2="318.10" y2="227.21" stroke="#2a2a2a" stroke-width="1.0"/>
<text x="311.90" y="230.00" font-size="8.0" text-anchor="end" fill="#262626" color="#262626" textLength="10.57" lengthAdjust="spacingAndGlyphs">0.9</text>
<line x1="315.10" y1="237.12" x2="318.10" y2="237.12" stroke="#2a2a2a" stroke-width="1.0"/>
<text x="311.90" y="240.00" font-size="8.0" text-anchor="end" fill="#262626" color="#262626" textLength="10.57" lengthAdjust="spacingAndGlyphs">0.8</text>
<line x1="315.10" y1="247.03" x2="318.10" y2="247.03" stroke="#2a2a2a" stroke-width="1.0"/>
<text x="311.90" y="250.00" font-size="8.0" text-anchor="end" fill="#262626" color="#262626" textLength="10.57" lengthAdjust="spacingAndGlyphs">0.7</text>
<line x1="315.10" y1="256.94" x2="318.10" y2="256.94" stroke="#2a2a2a" stroke-width="1.0"/>
<text x="311.90" y="260.00" font-size="8.0" text-anchor="end" fill="#262626" color="#262626" textLength="10.57" lengthAdjust="spacingAndGlyphs">0.6</text>
<line x1="315.10" y1="266.85" x2="318.10" y2="266.85" stroke="#2a2a2a" stroke-width="1.0"/>
<text x="311.90" y="269.00" font-size="8.0" text-anchor="end" fill="#262626" color="#262626" textLength="10.57" lengthAdjust="spacingAndGlyphs">0.5</text>
<line x1="315.10" y1="276.76" x2="318.10" y2="276.76" stroke="#2a2a2a" stroke-width="1.0"/>
<text x="311.90" y="279.00" font-size="8.0" text-anchor="end" fill="#262626" color="#262626" textLength="10.57" lengthAdjust="spacingAndGlyphs">0.4</text>
<line x1="315.10" y1="286.67" x2="318.10" y2="286.67" stroke="#2a2a2a" stroke-width="1.0"/>
<text x="311.90" y="289.00" font-size="8.0" text-anchor="end" fill="#262626" color="#262626" textLength="10.57" lengthAdjust="spacingAndGlyphs">0.3</text>
<line x1="315.10" y1="296.58" x2="318.10" y2="296.58" stroke="#2a2a2a" stroke-width="1.0"/>
<text x="311.90" y="299.00" font-size="8.0" text-anchor="end" fill="#262626" color="#262626" textLength="10.57" lengthAdjust="spacingAndGlyphs">0.2</text>
<line x1="315.10" y1="306.49" x2="318.10" y2="306.49" stroke="#2a2a2a" stroke-width="1.0"/>
<text x="311.90" y="309.00" font-size="8.0" text-anchor="end" fill="#262626" color="#262626" textLength="10.57" lengthAdjust="spacingAndGlyphs">0.1</text>
<line x1="315.10" y1="316.40" x2="318.10" y2="316.40" stroke="#2a2a2a" stroke-width="1.0"/>
<text x="311.90" y="319.00" font-size="8.0" text-anchor="end" fill="#262626" color="#262626" textLength="10.57" lengthAdjust="spacingAndGlyphs">0.0</text>
<text transform="translate(296.70,285.80) rotate(-90)" x="-0.00" y="0" font-size="8.6" fill="#262626" color="#262626" textLength="8.00" lengthAdjust="spacingAndGlyphs" class="ti">OS</text>
<text transform="translate(296.70,275.10) rotate(-90)" x="-0.00" y="0" font-size="8.6" fill="#262626" color="#262626" textLength="29.20" lengthAdjust="spacingAndGlyphs" class="ti">probability</text>
<line x1="318.10" y1="316.40" x2="511.30" y2="316.40" stroke="#2a2a2a" stroke-width="1.1"/>
<line x1="318.10" y1="316.40" x2="318.10" y2="319.20" stroke="#2a2a2a" stroke-width="1.0"/>
<line x1="328.68" y1="316.40" x2="328.68" y2="319.20" stroke="#2a2a2a" stroke-width="1.0"/>
<line x1="339.26" y1="316.40" x2="339.26" y2="319.20" stroke="#2a2a2a" stroke-width="1.0"/>
<line x1="349.84" y1="316.40" x2="349.84" y2="319.20" stroke="#2a2a2a" stroke-width="1.0"/>
<line x1="360.42" y1="316.40" x2="360.42" y2="319.20" stroke="#2a2a2a" stroke-width="1.0"/>
<line x1="371.00" y1="316.40" x2="371.00" y2="319.20" stroke="#2a2a2a" stroke-width="1.0"/>
<line x1="381.58" y1="316.40" x2="381.58" y2="319.20" stroke="#2a2a2a" stroke-width="1.0"/>
<line x1="392.16" y1="316.40" x2="392.16" y2="319.20" stroke="#2a2a2a" stroke-width="1.0"/>
<line x1="402.74" y1="316.40" x2="402.74" y2="319.20" stroke="#2a2a2a" stroke-width="1.0"/>
<line x1="413.32" y1="316.40" x2="413.32" y2="319.20" stroke="#2a2a2a" stroke-width="1.0"/>
<line x1="423.90" y1="316.40" x2="423.90" y2="319.20" stroke="#2a2a2a" stroke-width="1.0"/>
<line x1="434.48" y1="316.40" x2="434.48" y2="319.20" stroke="#2a2a2a" stroke-width="1.0"/>
<line x1="445.06" y1="316.40" x2="445.06" y2="319.20" stroke="#2a2a2a" stroke-width="1.0"/>
<line x1="455.64" y1="316.40" x2="455.64" y2="319.20" stroke="#2a2a2a" stroke-width="1.0"/>
<line x1="466.22" y1="316.40" x2="466.22" y2="319.20" stroke="#2a2a2a" stroke-width="1.0"/>
<line x1="476.80" y1="316.40" x2="476.80" y2="319.20" stroke="#2a2a2a" stroke-width="1.0"/>
<line x1="487.38" y1="316.40" x2="487.38" y2="319.20" stroke="#2a2a2a" stroke-width="1.0"/>
<line x1="497.96" y1="316.40" x2="497.96" y2="319.20" stroke="#2a2a2a" stroke-width="1.0"/>
<line x1="508.54" y1="316.40" x2="508.54" y2="319.20" stroke="#2a2a2a" stroke-width="1.0"/>
<text x="318.10" y="328.00" font-size="8.0" text-anchor="middle" fill="#262626" color="#262626" textLength="4.23" lengthAdjust="spacingAndGlyphs">0</text>
<text x="328.68" y="328.00" font-size="8.0" text-anchor="middle" fill="#262626" color="#262626" textLength="4.23" lengthAdjust="spacingAndGlyphs">2</text>
<text x="339.26" y="328.00" font-size="8.0" text-anchor="middle" fill="#262626" color="#262626" textLength="4.23" lengthAdjust="spacingAndGlyphs">4</text>
<text x="349.84" y="328.00" font-size="8.0" text-anchor="middle" fill="#262626" color="#262626" textLength="4.23" lengthAdjust="spacingAndGlyphs">6</text>
<text x="360.42" y="328.00" font-size="8.0" text-anchor="middle" fill="#262626" color="#262626" textLength="4.23" lengthAdjust="spacingAndGlyphs">8</text>
<text x="371.00" y="328.00" font-size="8.0" text-anchor="middle" fill="#262626" color="#262626" textLength="8.45" lengthAdjust="spacingAndGlyphs">10</text>
<text x="381.58" y="328.00" font-size="8.0" text-anchor="middle" fill="#262626" color="#262626" textLength="8.45" lengthAdjust="spacingAndGlyphs">12</text>
<text x="392.16" y="328.00" font-size="8.0" text-anchor="middle" fill="#262626" color="#262626" textLength="8.45" lengthAdjust="spacingAndGlyphs">14</text>
<text x="402.74" y="328.00" font-size="8.0" text-anchor="middle" fill="#262626" color="#262626" textLength="8.45" lengthAdjust="spacingAndGlyphs">16</text>
<text x="413.32" y="328.00" font-size="8.0" text-anchor="middle" fill="#262626" color="#262626" textLength="8.45" lengthAdjust="spacingAndGlyphs">18</text>
<text x="423.90" y="328.00" font-size="8.0" text-anchor="middle" fill="#262626" color="#262626" textLength="8.45" lengthAdjust="spacingAndGlyphs">20</text>
<text x="434.48" y="328.00" font-size="8.0" text-anchor="middle" fill="#262626" color="#262626" textLength="8.45" lengthAdjust="spacingAndGlyphs">22</text>
<text x="445.06" y="328.00" font-size="8.0" text-anchor="middle" fill="#262626" color="#262626" textLength="8.45" lengthAdjust="spacingAndGlyphs">24</text>
<text x="455.64" y="328.00" font-size="8.0" text-anchor="middle" fill="#262626" color="#262626" textLength="8.45" lengthAdjust="spacingAndGlyphs">26</text>
<text x="466.22" y="328.00" font-size="8.0" text-anchor="middle" fill="#262626" color="#262626" textLength="8.45" lengthAdjust="spacingAndGlyphs">28</text>
<text x="476.80" y="328.00" font-size="8.0" text-anchor="middle" fill="#262626" color="#262626" textLength="8.45" lengthAdjust="spacingAndGlyphs">30</text>
<text x="487.38" y="328.00" font-size="8.0" text-anchor="middle" fill="#262626" color="#262626" textLength="8.45" lengthAdjust="spacingAndGlyphs">32</text>
<text x="497.96" y="328.00" font-size="8.0" text-anchor="middle" fill="#262626" color="#262626" textLength="8.45" lengthAdjust="spacingAndGlyphs">34</text>
<text x="508.54" y="328.00" font-size="8.0" text-anchor="middle" fill="#262626" color="#262626" textLength="8.45" lengthAdjust="spacingAndGlyphs">36</text>
<text x="381.70" y="338.10" font-size="8.6" fill="#262626" color="#262626" textLength="12.70" lengthAdjust="spacingAndGlyphs" class="ti">Time</text>
<text x="397.40" y="338.10" font-size="8.6" fill="#262626" color="#262626" textLength="5.10" lengthAdjust="spacingAndGlyphs" class="ti">to</text>
<text x="404.70" y="338.10" font-size="8.6" fill="#262626" color="#262626" textLength="15.00" lengthAdjust="spacingAndGlyphs" class="ti">event</text>
<text x="423.00" y="338.10" font-size="8.6" fill="#262626" color="#262626" textLength="24.80" lengthAdjust="spacingAndGlyphs" class="ti">(months)</text>
<polyline points="318.50,217.50 321.50,217.50 321.50,218.50 341.50,218.50 341.50,219.50 351.50,219.50 351.50,220.50 360.50,220.50 360.50,222.50 362.50,222.50 362.50,222.50 369.50,222.50 369.50,223.50 382.50,223.50 382.50,225.50 390.50,225.50 390.50,225.50 400.50,225.50 400.50,227.50 403.50,227.50 403.50,228.50 410.50,228.50 410.50,229.50 427.50,229.50 427.50,231.50 503.50,231.50" fill="none" stroke="#a82a50" stroke-width="1.45" stroke-linejoin="miter"/>
<polyline points="318.50,217.50 321.50,217.50 321.50,218.50 341.50,218.50 341.50,219.50 351.50,219.50 351.50,221.50 360.50,221.50 360.50,222.50 362.50,222.50 362.50,223.50 369.50,223.50 369.50,225.50 382.50,225.50 382.50,227.50 390.50,227.50 390.50,229.50 400.50,229.50 400.50,230.50 410.50,230.50 410.50,233.50 427.50,233.50 427.50,237.50 503.50,237.50" fill="none" stroke="#284a66" stroke-width="1.45" stroke-linejoin="miter" style="mix-blend-mode:darken"/>
<line x1="429.50" y1="236.10" x2="429.50" y2="238.90" stroke="#284a66" stroke-width="1.3"/>
<line x1="436.50" y1="236.10" x2="436.50" y2="238.90" stroke="#284a66" stroke-width="1.3"/>
<line x1="438.50" y1="236.10" x2="438.50" y2="238.90" stroke="#284a66" stroke-width="1.3"/>
<line x1="444.50" y1="236.10" x2="444.50" y2="238.90" stroke="#284a66" stroke-width="1.3"/>
<line x1="449.50" y1="236.10" x2="449.50" y2="238.90" stroke="#284a66" stroke-width="1.3"/>
<line x1="453.50" y1="236.10" x2="453.50" y2="238.90" stroke="#284a66" stroke-width="1.3"/>
<line x1="456.50" y1="236.10" x2="456.50" y2="238.90" stroke="#284a66" stroke-width="1.3"/>
<line x1="458.50" y1="236.10" x2="458.50" y2="238.90" stroke="#284a66" stroke-width="1.3"/>
<line x1="459.50" y1="236.10" x2="459.50" y2="238.90" stroke="#284a66" stroke-width="1.3"/>
<line x1="464.50" y1="236.10" x2="464.50" y2="238.90" stroke="#284a66" stroke-width="1.3"/>
<line x1="467.50" y1="236.10" x2="467.50" y2="238.90" stroke="#284a66" stroke-width="1.3"/>
<line x1="470.50" y1="236.10" x2="470.50" y2="238.90" stroke="#284a66" stroke-width="1.3"/>
<line x1="473.50" y1="236.10" x2="473.50" y2="238.90" stroke="#284a66" stroke-width="1.3"/>
<line x1="479.50" y1="236.10" x2="479.50" y2="238.90" stroke="#284a66" stroke-width="1.3"/>
<line x1="484.50" y1="236.10" x2="484.50" y2="238.90" stroke="#284a66" stroke-width="1.3"/>
<line x1="500.50" y1="236.10" x2="500.50" y2="238.90" stroke="#284a66" stroke-width="1.3"/>
<line x1="502.50" y1="236.10" x2="502.50" y2="238.90" stroke="#284a66" stroke-width="1.3"/>
<line x1="429.50" y1="230.10" x2="429.50" y2="232.90" stroke="#a82a50" stroke-width="1.3"/>
<line x1="430.50" y1="230.10" x2="430.50" y2="232.90" stroke="#a82a50" stroke-width="1.3"/>
<line x1="435.50" y1="230.10" x2="435.50" y2="232.90" stroke="#a82a50" stroke-width="1.3"/>
<line x1="437.50" y1="230.10" x2="437.50" y2="232.90" stroke="#a82a50" stroke-width="1.3"/>
<line x1="438.50" y1="230.10" x2="438.50" y2="232.90" stroke="#a82a50" stroke-width="1.3"/>
<line x1="444.50" y1="230.10" x2="444.50" y2="232.90" stroke="#a82a50" stroke-width="1.3"/>
<line x1="449.50" y1="230.10" x2="449.50" y2="232.90" stroke="#a82a50" stroke-width="1.3"/>
<line x1="451.50" y1="230.10" x2="451.50" y2="232.90" stroke="#a82a50" stroke-width="1.3"/>
<line x1="452.50" y1="230.10" x2="452.50" y2="232.90" stroke="#a82a50" stroke-width="1.3"/>
<line x1="454.50" y1="230.10" x2="454.50" y2="232.90" stroke="#a82a50" stroke-width="1.3"/>
<line x1="456.50" y1="230.10" x2="456.50" y2="232.90" stroke="#a82a50" stroke-width="1.3"/>
<line x1="457.50" y1="230.10" x2="457.50" y2="232.90" stroke="#a82a50" stroke-width="1.3"/>
<line x1="459.50" y1="230.10" x2="459.50" y2="232.90" stroke="#a82a50" stroke-width="1.3"/>
<line x1="461.50" y1="230.10" x2="461.50" y2="232.90" stroke="#a82a50" stroke-width="1.3"/>
<line x1="464.50" y1="230.10" x2="464.50" y2="232.90" stroke="#a82a50" stroke-width="1.3"/>
<line x1="467.50" y1="230.10" x2="467.50" y2="232.90" stroke="#a82a50" stroke-width="1.3"/>
<line x1="469.50" y1="230.10" x2="469.50" y2="232.90" stroke="#a82a50" stroke-width="1.3"/>
<line x1="473.50" y1="230.10" x2="473.50" y2="232.90" stroke="#a82a50" stroke-width="1.3"/>
<line x1="476.50" y1="230.10" x2="476.50" y2="232.90" stroke="#a82a50" stroke-width="1.3"/>
<line x1="478.50" y1="230.10" x2="478.50" y2="232.90" stroke="#a82a50" stroke-width="1.3"/>
<line x1="480.50" y1="230.10" x2="480.50" y2="232.90" stroke="#a82a50" stroke-width="1.3"/>
<line x1="484.50" y1="230.10" x2="484.50" y2="232.90" stroke="#a82a50" stroke-width="1.3"/>
<line x1="488.50" y1="230.10" x2="488.50" y2="232.90" stroke="#a82a50" stroke-width="1.3"/>
<line x1="491.50" y1="230.10" x2="491.50" y2="232.90" stroke="#a82a50" stroke-width="1.3"/>
<line x1="493.50" y1="230.10" x2="493.50" y2="232.90" stroke="#a82a50" stroke-width="1.3"/>
<line x1="500.50" y1="230.10" x2="500.50" y2="232.90" stroke="#a82a50" stroke-width="1.3"/>
<line x1="501.50" y1="230.10" x2="501.50" y2="232.90" stroke="#a82a50" stroke-width="1.3"/>
<line x1="413.50" y1="228.20" x2="413.50" y2="230.80" stroke="#a82a50" stroke-width="1.2"/>
<line x1="413.50" y1="232.20" x2="413.50" y2="234.80" stroke="#284a66" stroke-width="1.2"/>
<line x1="419.50" y1="228.20" x2="419.50" y2="230.80" stroke="#a82a50" stroke-width="1.2"/>
<line x1="419.50" y1="232.20" x2="419.50" y2="234.80" stroke="#284a66" stroke-width="1.2"/>
<line x1="421.50" y1="228.20" x2="421.50" y2="230.80" stroke="#a82a50" stroke-width="1.2"/>
<line x1="421.50" y1="232.20" x2="421.50" y2="234.80" stroke="#284a66" stroke-width="1.2"/>
<line x1="424.50" y1="228.20" x2="424.50" y2="230.80" stroke="#a82a50" stroke-width="1.2"/>
<line x1="424.50" y1="232.20" x2="424.50" y2="234.80" stroke="#284a66" stroke-width="1.2"/>
<line x1="406.50" y1="227.20" x2="406.50" y2="229.80" stroke="#a82a50" stroke-width="1.2"/>
<line x1="406.50" y1="229.20" x2="406.50" y2="231.80" stroke="#284a66" stroke-width="1.2"/>
<line x1="352.50" y1="219.30" x2="352.50" y2="221.70" stroke="#a82a50" stroke-width="1.2"/>
<line x1="354.50" y1="219.30" x2="354.50" y2="221.70" stroke="#a82a50" stroke-width="1.2"/>
<line x1="356.50" y1="219.30" x2="356.50" y2="221.70" stroke="#a82a50" stroke-width="1.2"/>
<line x1="363.50" y1="221.30" x2="363.50" y2="223.70" stroke="#a82a50" stroke-width="1.2"/>
<line x1="371.50" y1="222.30" x2="371.50" y2="224.70" stroke="#a82a50" stroke-width="1.2"/>
<line x1="373.50" y1="222.30" x2="373.50" y2="224.70" stroke="#a82a50" stroke-width="1.2"/>
<line x1="388.50" y1="224.30" x2="388.50" y2="226.70" stroke="#a82a50" stroke-width="1.2"/>
<line x1="396.50" y1="224.30" x2="396.50" y2="226.70" stroke="#a82a50" stroke-width="1.2"/>
<line x1="402.50" y1="226.30" x2="402.50" y2="228.70" stroke="#a82a50" stroke-width="1.2"/>
<line x1="328.50" y1="217.10" x2="328.50" y2="219.90" stroke="#284a66" stroke-width="1.3"/>
<text x="309.20" y="346.20" font-size="6.8" text-anchor="end" fill="#333333" color="#333333" textLength="39.02" lengthAdjust="spacingAndGlyphs" class="lt">Patients at risk</text>
<text x="309.20" y="356.00" font-size="6.8" text-anchor="end" fill="#46688f" color="#46688f" textLength="32.41" lengthAdjust="spacingAndGlyphs" class="lt">Daily dosing</text>
<text x="309.20" y="363.40" font-size="6.8" text-anchor="end" fill="#46688f" color="#46688f" textLength="16.87" lengthAdjust="spacingAndGlyphs" class="lt">group:</text>
<text x="309.20" y="372.60" font-size="6.8" text-anchor="end" fill="#cc3d62" color="#cc3d62" textLength="26.79" lengthAdjust="spacingAndGlyphs" class="lt">All treated</text>
<text x="309.20" y="380.40" font-size="6.8" text-anchor="end" fill="#cc3d62" color="#cc3d62" textLength="22.49" lengthAdjust="spacingAndGlyphs" class="lt">patients:</text>
<text x="318.10" y="359.90" font-size="7.0" text-anchor="middle" fill="#46688f" color="#46688f" class="lt">72</text>
<text x="328.68" y="359.90" font-size="7.0" text-anchor="middle" fill="#46688f" color="#46688f" class="lt">71</text>
<text x="339.26" y="359.90" font-size="7.0" text-anchor="middle" fill="#46688f" color="#46688f" class="lt">69</text>
<text x="349.84" y="359.90" font-size="7.0" text-anchor="middle" fill="#46688f" color="#46688f" class="lt">67</text>
<text x="360.42" y="359.90" font-size="7.0" text-anchor="middle" fill="#46688f" color="#46688f" class="lt">63</text>
<text x="371.00" y="359.90" font-size="7.0" text-anchor="middle" fill="#46688f" color="#46688f" class="lt">61</text>
<text x="381.58" y="359.90" font-size="7.0" text-anchor="middle" fill="#46688f" color="#46688f" class="lt">60</text>
<text x="392.16" y="359.90" font-size="7.0" text-anchor="middle" fill="#46688f" color="#46688f" class="lt">50</text>
<text x="402.74" y="359.90" font-size="7.0" text-anchor="middle" fill="#46688f" color="#46688f" class="lt">44</text>
<text x="413.32" y="359.90" font-size="7.0" text-anchor="middle" fill="#46688f" color="#46688f" class="lt">34</text>
<text x="423.90" y="359.90" font-size="7.0" text-anchor="middle" fill="#46688f" color="#46688f" class="lt">22</text>
<text x="434.48" y="359.90" font-size="7.0" text-anchor="middle" fill="#46688f" color="#46688f" class="lt">18</text>
<text x="445.06" y="359.90" font-size="7.0" text-anchor="middle" fill="#46688f" color="#46688f" class="lt">14</text>
<text x="455.64" y="359.90" font-size="7.0" text-anchor="middle" fill="#46688f" color="#46688f" class="lt">10</text>
<text x="466.22" y="359.90" font-size="7.0" text-anchor="middle" fill="#46688f" color="#46688f" class="lt">7</text>
<text x="476.80" y="359.90" font-size="7.0" text-anchor="middle" fill="#46688f" color="#46688f" class="lt">4</text>
<text x="487.38" y="359.90" font-size="7.0" text-anchor="middle" fill="#46688f" color="#46688f" class="lt">2</text>
<text x="497.96" y="359.90" font-size="7.0" text-anchor="middle" fill="#46688f" color="#46688f" class="lt">2</text>
<text x="508.54" y="359.90" font-size="7.0" text-anchor="middle" fill="#46688f" color="#46688f" class="lt">0</text>
<text x="318.10" y="376.90" font-size="7.0" text-anchor="middle" fill="#cc3d62" color="#cc3d62" class="lt">100</text>
<text x="328.68" y="376.90" font-size="7.0" text-anchor="middle" fill="#cc3d62" color="#cc3d62" class="lt">98</text>
<text x="339.26" y="376.90" font-size="7.0" text-anchor="middle" fill="#cc3d62" color="#cc3d62" class="lt">96</text>
<text x="349.84" y="376.90" font-size="7.0" text-anchor="middle" fill="#cc3d62" color="#cc3d62" class="lt">93</text>
<text x="360.42" y="376.90" font-size="7.0" text-anchor="middle" fill="#cc3d62" color="#cc3d62" class="lt">89</text>
<text x="371.00" y="376.90" font-size="7.0" text-anchor="middle" fill="#cc3d62" color="#cc3d62" class="lt">87</text>
<text x="381.58" y="376.90" font-size="7.0" text-anchor="middle" fill="#cc3d62" color="#cc3d62" class="lt">85</text>
<text x="392.16" y="376.90" font-size="7.0" text-anchor="middle" fill="#cc3d62" color="#cc3d62" class="lt">75</text>
<text x="402.74" y="376.90" font-size="7.0" text-anchor="middle" fill="#cc3d62" color="#cc3d62" class="lt">68</text>
<text x="413.32" y="376.90" font-size="7.0" text-anchor="middle" fill="#cc3d62" color="#cc3d62" class="lt">58</text>
<text x="423.90" y="376.90" font-size="7.0" text-anchor="middle" fill="#cc3d62" color="#cc3d62" class="lt">46</text>
<text x="434.48" y="376.90" font-size="7.0" text-anchor="middle" fill="#cc3d62" color="#cc3d62" class="lt">40</text>
<text x="445.06" y="376.90" font-size="7.0" text-anchor="middle" fill="#cc3d62" color="#cc3d62" class="lt">31</text>
<text x="455.64" y="376.90" font-size="7.0" text-anchor="middle" fill="#cc3d62" color="#cc3d62" class="lt">21</text>
<text x="466.22" y="376.90" font-size="7.0" text-anchor="middle" fill="#cc3d62" color="#cc3d62" class="lt">14</text>
<text x="476.80" y="376.90" font-size="7.0" text-anchor="middle" fill="#cc3d62" color="#cc3d62" class="lt">7</text>
<text x="487.38" y="376.90" font-size="7.0" text-anchor="middle" fill="#cc3d62" color="#cc3d62" class="lt">5</text>
<text x="497.96" y="376.90" font-size="7.0" text-anchor="middle" fill="#cc3d62" color="#cc3d62" class="lt">3</text>
<text x="508.54" y="376.90" font-size="7.0" text-anchor="middle" fill="#cc3d62" color="#cc3d62" class="lt">0</text>
</svg>
</body></html>
